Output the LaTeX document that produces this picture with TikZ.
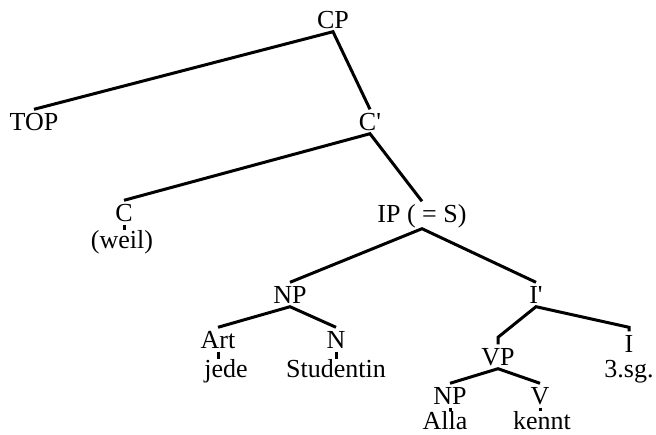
\documentclass[tikz,border=0pt]{standalone}
\usepackage{fontspec}
\setmainfont{Liberation Serif}
\usepackage{tikz}
\tikzset{
  cat/.style={anchor=base, inner xsep=0pt, inner ysep=3.5pt,
              text height=17pt, text depth=0pt},
  word/.style={anchor=base, inner xsep=0pt, inner ysep=2.5pt,
               text height=15pt, text depth=0pt},
  branch/.style={line width=3pt, line join=miter},
  tick/.style={line width=3pt},
}

\begin{document}
\begin{tikzpicture}[x=1pt, y=-1pt, every node/.style={font=\fontsize{26}{30}\selectfont}]
  \useasboundingbox (0,0) rectangle (656,434);

  % Categories
  \node[cat] (cp)   at (333,28)  {CP};
  \node[cat] (top)  at (34,130)  {TOP};
  \node[cat] (cbar) at (370,130) {C\textquotesingle};
  \node[cat] (c)    at (124,221) {C};
  \node[cat, text depth=3pt] (ip) at (422,222) {IP ( = S)};
  \node[cat] (np)   at (290,303) {NP};
  \node[cat] (ibar) at (536,303) {I\textquotesingle};
  \node[cat] (art)  at (218,348) {Art};
  \node[cat] (n)    at (336,348) {N};
  \node[cat] (vp)   at (498,365) {VP};
  \node[cat] (i)    at (629,352) {I};
  \node[cat] (np2)  at (450,404) {NP};
  \node[cat] (v)    at (540,404) {V};

  % Words
  \node[word] (weil)      at (122,248) {(weil)};
  \node[word] (jede)      at (226,377) {jede};
  \node[word] (studentin) at (336,377) {Studentin};
  \node[word] (sg)        at (629,377) {3.sg.};
  \node[word] (alla)      at (445,429) {Alla};
  \node[word] (kennt)     at (542,429) {kennt};

  % Branches
  \draw[branch] (top.north) -- (cp.south) -- (cbar.north);
  \draw[branch] (c.north) -- (cbar.south) -- (ip.north);
  \draw[branch] (np.north) -- (ip.south) -- (ibar.north);
  \draw[branch] (art.north) -- (np.south) -- (n.north);
  \draw[branch] (vp.north) -- ([yshift=7pt]vp.north) -- (ibar.south)
                -- ([yshift=4pt]i.north) -- (i.north);
  \draw[branch] (np2.north) -- (vp.south) -- (v.north);

  % Ticks to the words
  \draw[tick] (c.south) -- (c.south |- weil.north);
  \draw[tick] (art.south) -- (art.south |- jede.north);
  \draw[tick] (n.south) -- (n.south |- studentin.north);
  \draw[tick] (np2.south) -- (np2.south |- alla.north);
  \draw[tick] (v.south) -- (v.south |- kennt.north);
\end{tikzpicture}
\end{document}
